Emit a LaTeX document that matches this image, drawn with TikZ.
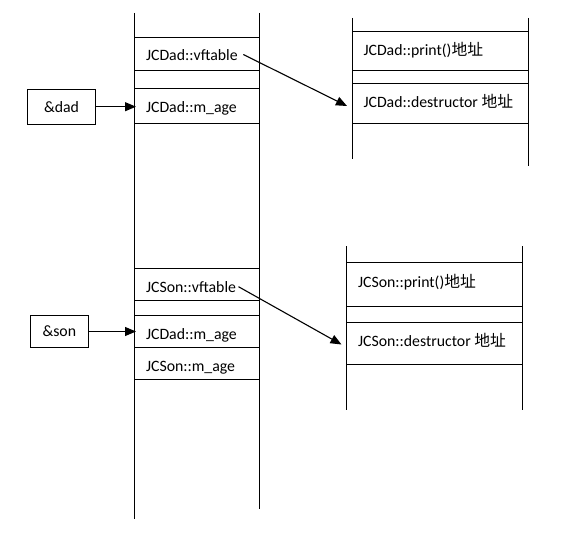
\documentclass[tikz,border=0pt]{standalone}
\usepackage{fontspec}
\setmainfont{Carlito}
\newfontfamily\cjk{Noto Sans CJK SC}
\usetikzlibrary{arrows.meta}
\begin{document}
\begin{tikzpicture}[x=1pt,y=-1pt,line width=1.1pt,
  lbl/.style={anchor=base west,inner sep=0pt,font=\fontsize{15.8}{19}\selectfont},
  refbox/.style={draw,inner sep=0pt,font=\fontsize{15.8}{19}\selectfont},
  arr/.style={-{Triangle[length=11pt,width=9pt]}}]
\useasboundingbox (0,0) rectangle (561,532);
% left column (dad/son memory)
\draw (134.3,13) -- (134.3,519);
\draw (259.3,13) -- (259.3,509);
\foreach \y in {37.3,70.3,88.3,123.3,268.3,300.3,315.3,347.3,379.3}
  \draw (134.3,\y) -- (259.3,\y);
% right top column
\draw (352.3,18) -- (352.3,159.3);
\draw (528.3,18) -- (528.3,165.7);
\foreach \y in {31.3,70.3,83.3,123.3}
  \draw (352.3,\y) -- (528.3,\y);
% right bottom column
\draw (346.7,246) -- (346.7,410);
\draw (522.3,246) -- (522.3,410);
\foreach \y in {262.3,306.3,322.3,364.3}
  \draw (346.7,\y) -- (522.3,\y);
% labels (baselines)
\node[lbl] (dvft) at (145.5,61) {JCDad::vftable};
\node[lbl] (dage) at (145.5,112) {JCDad::m\_age};
\node[lbl] (svft) at (145.5,292) {JCSon::vftable};
\node[lbl] (sdage) at (145.5,339.3) {JCDad::m\_age};
\node[lbl] (sage) at (145.5,371.7) {JCSon::m\_age};
\node[lbl] (dprint) at (363,55.7) {JCDad::print(){\cjk 地址}};
\node[lbl] (ddtor) at (363,107.3) {JCDad::destructor {\cjk 地址}};
\node[lbl] (sprint) at (357.5,287.7) {JCSon::print(){\cjk 地址}};
\node[lbl] (sdtor) at (357.5,346) {JCSon::destructor {\cjk 地址}};
% pointer boxes
\node[refbox,minimum width=68.4pt,minimum height=34.7pt] (dad) at (61.5,106.7) {\&dad};
\node[refbox,minimum width=58pt,minimum height=32pt] (son) at (59.3,331.5) {\&son};
% arrow targets
\coordinate (dadin) at (136,106.7);
\coordinate (sonin) at (136,331.5);
\coordinate (vfd) at (243.3,54.5);
\coordinate (vfs) at (238.5,286.7);
\coordinate (ddtorin) at (347,106);
\coordinate (sdtorin) at (341.5,344.5);
\draw[arr] (dad.east) -- (dadin);
\draw[arr] (son.east) -- (sonin);
\draw[arr] (vfd) -- (ddtorin);
\draw[arr] (vfs) -- (sdtorin);
\end{tikzpicture}
\end{document}
